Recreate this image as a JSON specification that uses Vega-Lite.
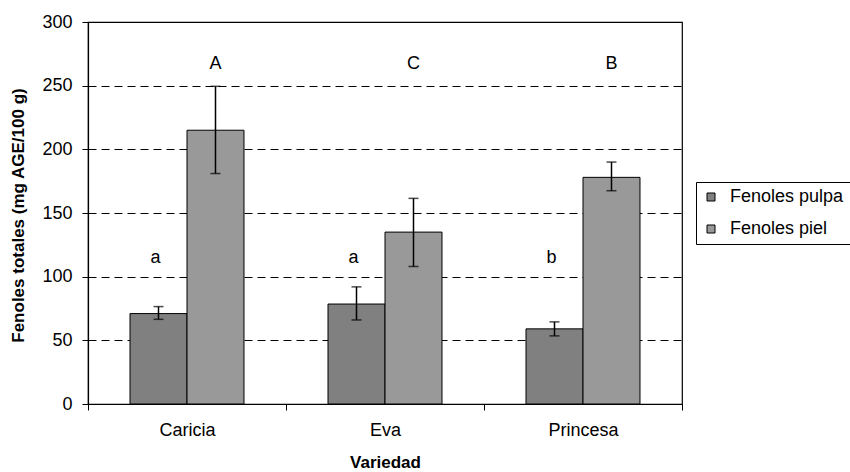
{
  "$schema": "https://vega.github.io/schema/vega-lite/v6.json",
  "width": 594,
  "height": 382,
  "autosize": {"type": "none"},
  "padding": {"left": 88, "top": 22, "right": 168, "bottom": 68},
  "background": "white",
  "config": {
    "font": "Liberation Sans",
    "view": {"stroke": "black", "strokeWidth": 1.2},
    "axis": {"labelFont": "Liberation Sans", "titleFont": "Liberation Sans", "labelColor": "black", "titleColor": "black", "domainColor": "black", "tickColor": "black"}
  },
  "data": {
    "values": [
      {"variedad": "Caricia", "tipo": "Fenoles pulpa", "valor": 71, "lo": 66.5, "hi": 76.5, "letra": "a"},
      {"variedad": "Caricia", "tipo": "Fenoles piel", "valor": 215, "lo": 181, "hi": 249.5, "letra": "A"},
      {"variedad": "Eva", "tipo": "Fenoles pulpa", "valor": 78.5, "lo": 66, "hi": 92, "letra": "a"},
      {"variedad": "Eva", "tipo": "Fenoles piel", "valor": 135, "lo": 108, "hi": 161.5, "letra": "C"},
      {"variedad": "Princesa", "tipo": "Fenoles pulpa", "valor": 59, "lo": 53.5, "hi": 64.5, "letra": "b"},
      {"variedad": "Princesa", "tipo": "Fenoles piel", "valor": 178, "lo": 167.5, "hi": 190, "letra": "B"}
    ]
  },
  "encoding": {
    "x": {
      "field": "variedad", "type": "nominal", "sort": ["Caricia", "Eva", "Princesa"],
      "scale": {"paddingInner": 0, "paddingOuter": 0},
      "axis": {"title": "Variedad", "labelAngle": 0, "labelFontSize": 18, "labelPadding": 11, "tickBand": "extent", "tickSize": 6, "domainWidth": 1.2,
        "titleFontSize": 17, "titleFontWeight": "bold", "titleY": 58, "titleBaseline": "middle"}
    },
    "xOffset": {"field": "tipo", "type": "nominal", "sort": ["Fenoles pulpa", "Fenoles piel"], "scale": {"paddingInner": 0, "paddingOuter": 0.737}}
  },
  "layer": [
    {
      "mark": {"type": "bar", "stroke": "black", "strokeWidth": 1},
      "encoding": {
        "y": {"field": "valor", "type": "quantitative", "scale": {"domain": [0, 300]},
          "axis": {"title": "Fenoles totales (mg AGE/100 g)", "values": [0, 50, 100, 150, 200, 250, 300], "labelFontSize": 18, "labelPadding": 10, "tickSize": 6, "domainWidth": 1.2,
            "grid": true, "gridColor": "black", "gridDash": [8, 5], "gridWidth": 1,
            "titleFontSize": 17, "titleFontWeight": "bold", "titleX": -70, "titleY": 193, "titleAngle": -90, "titleAlign": "center", "titleBaseline": "middle"}},
        "color": {"field": "tipo", "type": "nominal", "sort": ["Fenoles pulpa", "Fenoles piel"],
          "scale": {"domain": ["Fenoles pulpa", "Fenoles piel"], "range": ["#808080", "#999999"]},
          "legend": {"title": null, "orient": "none", "legendX": 608, "legendY": 160, "strokeColor": "black", "padding": 6, "rowPadding": 14,
            "symbolType": "square", "symbolSize": 64, "symbolStrokeColor": "black", "symbolStrokeWidth": 1, "labelFontSize": 18, "labelFont": "Liberation Sans", "labelColor": "black", "labelOffset": 10}}
      }
    },
    {
      "mark": {"type": "rule", "color": "black", "strokeWidth": 1.5},
      "encoding": {"y": {"field": "lo", "type": "quantitative"}, "y2": {"field": "hi"}}
    },
    {
      "mark": {"type": "tick", "color": "black", "thickness": 1.5, "size": 10, "orient": "horizontal"},
      "encoding": {"y": {"field": "lo", "type": "quantitative"}}
    },
    {
      "mark": {"type": "tick", "color": "black", "thickness": 1.5, "size": 10, "orient": "horizontal"},
      "encoding": {"y": {"field": "hi", "type": "quantitative"}}
    },
    {
      "transform": [{"filter": "datum.tipo === 'Fenoles pulpa'"}],
      "mark": {"type": "text", "fontSize": 18, "font": "Liberation Sans", "color": "black", "baseline": "middle", "dx": -3},
      "encoding": {"y": {"datum": 115}, "text": {"field": "letra"}}
    },
    {
      "transform": [{"filter": "datum.tipo === 'Fenoles piel'"}],
      "mark": {"type": "text", "fontSize": 18, "font": "Liberation Sans", "color": "black", "baseline": "middle"},
      "encoding": {"y": {"datum": 267}, "text": {"field": "letra"}}
    }
  ]
}
